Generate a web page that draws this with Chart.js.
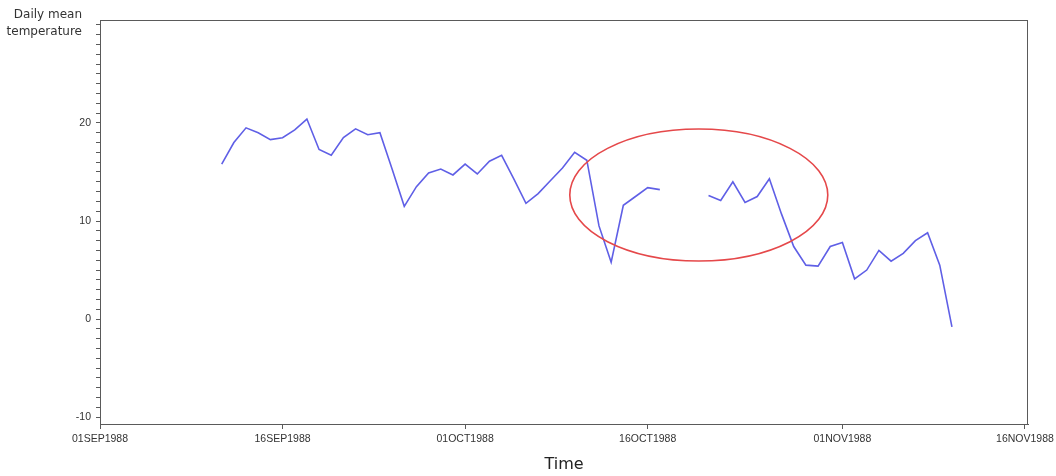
<!DOCTYPE html>
<html>
<head>
<meta charset="utf-8">
<script src="https://cdn.jsdelivr.net/npm/chart.js@4"></script>
<style>
  html, body { margin: 0; padding: 0; background: #fff; }
  #wrap { width: 1056px; height: 476px; }
</style>
</head>
<body>
<div id="wrap"><canvas id="tc" width="1056" height="476"></canvas></div>
<script>
/* ── Data ─────────────────────────────────────────────────────────── */
const DATES = [
    '1988-09-11', '1988-09-12', '1988-09-13', '1988-09-14', '1988-09-15', '1988-09-16',
    '1988-09-17', '1988-09-18', '1988-09-19', '1988-09-20', '1988-09-21', '1988-09-22',
    '1988-09-23', '1988-09-24', '1988-09-25', '1988-09-26', '1988-09-27', '1988-09-28',
    '1988-09-29', '1988-09-30', '1988-10-01', '1988-10-02', '1988-10-03', '1988-10-04',
    '1988-10-05', '1988-10-06', '1988-10-07', '1988-10-08', '1988-10-09', '1988-10-10',
    '1988-10-11', '1988-10-12', '1988-10-13', '1988-10-14', '1988-10-15', '1988-10-16',
    '1988-10-17', '1988-10-18', '1988-10-19', '1988-10-20', '1988-10-21', '1988-10-22',
    '1988-10-23', '1988-10-24', '1988-10-25', '1988-10-26', '1988-10-27', '1988-10-28',
    '1988-10-29', '1988-10-30', '1988-10-31', '1988-11-01', '1988-11-02', '1988-11-03',
    '1988-11-04', '1988-11-05', '1988-11-06', '1988-11-07', '1988-11-08', '1988-11-09',
    '1988-11-10',
];
// null = missing day (gap in the line)
const TEMPS = [
    15.8, 18.0, 19.5, 19.0, 18.3, 18.5,
    19.3, 20.4, 17.3, 16.7, 18.5, 19.4,
    18.8, 19.0, 15.3, 11.5, 13.5, 14.9,
    15.3, 14.7, 15.8, 14.8, 16.1, 16.7,
    14.3, 11.8, 12.8, 14.1, 15.4, 17.0,
    16.2,  9.5,  5.8, 11.6, 12.5, 13.4,
    13.2, null, null, null, 12.6, 12.1,
    14.0, 11.9, 12.5, 14.3, 10.7,  7.4,
     5.5,  5.4,  7.4,  7.8,  4.1,  5.0,
     7.0,  5.9,  6.7,  8.0,  8.8,  5.5,
    -0.8,
];
const TICK_DATES  = ['1988-09-01', '1988-09-16', '1988-10-01', '1988-10-16', '1988-11-01', '1988-11-16'];
const TICK_LABELS = ['01SEP1988', '16SEP1988', '01OCT1988', '16OCT1988', '01NOV1988', '16NOV1988'];
const Y_LABELS = [-10, 0, 10, 20];
const Y_TITLE = ['Daily mean', 'temperature'];
const X_TITLE = 'Time';

/* ── Helpers ──────────────────────────────────────────────────────── */
const ORIGIN = Date.parse('1988-09-01');
const dayNo  = s => (Date.parse(s) - ORIGIN) / 86400000;

const AXIS = '#5a5a5a';
const TXT  = '#333';

// highlight ellipse, in data units (days since 01SEP1988, degrees)
const RING = { cx: 49.2, cy: 12.65, rx: 10.6, ry: 6.73 };

/* ── Plugin: frame, ellipse, y title ─────────────────────────────── */
const extras = {
    id: 'extras',
    afterDatasetsDraw(chart) {
        const { ctx, chartArea: a, scales: { x, y } } = chart;
        ctx.save();
        // full box round the plot
        ctx.strokeStyle = AXIS;
        ctx.lineWidth = 1;
        ctx.strokeRect(Math.round(a.left) + 0.5, Math.round(a.top) + 0.5,
                       Math.round(a.right - a.left) - 1, Math.round(a.bottom - a.top));
        // red ring
        const cx = x.getPixelForValue(RING.cx);
        const cy = y.getPixelForValue(RING.cy);
        const rx = Math.abs(x.getPixelForValue(RING.cx + RING.rx) - cx);
        const ry = Math.abs(y.getPixelForValue(RING.cy + RING.ry) - cy);
        ctx.beginPath();
        ctx.ellipse(cx, cy, rx, ry, 0, 0, Math.PI * 2);
        ctx.strokeStyle = '#e5484a';
        ctx.lineWidth = 1.6;
        ctx.stroke();
        // horizontal y title, top-left
        ctx.fillStyle = TXT;
        ctx.font = "12px 'DejaVu Sans', sans-serif";
        ctx.textAlign = 'right';
        ctx.textBaseline = 'middle';
        ctx.fillText(Y_TITLE[0], 82, 15);
        ctx.fillText(Y_TITLE[1], 82, 32);
        ctx.restore();
    },
};

/* ── Chart ────────────────────────────────────────────────────────── */
const points = DATES.map((d, i) => ({ x: dayNo(d), y: TEMPS[i] }));
const tickVals = TICK_DATES.map(dayNo);

new Chart(document.getElementById('tc'), {
    type: 'line',
    data: {
        datasets: [{
            data: points,
            borderColor: '#5f5fe6',
            borderWidth: 1.6,
            pointRadius: 0,
            tension: 0,
            spanGaps: false,
        }],
    },
    options: {
        responsive: false,
        animation: false,
        layout: { padding: { top: 20, right: 28, bottom: 0, left: 0 } },
        plugins: {
            legend: { display: false },
            tooltip: { enabled: false },
        },
        scales: {
            x: {
                type: 'linear',
                min: 0,
                max: 76.25,
                afterBuildTicks: s => { s.ticks = tickVals.map(v => ({ value: v })); },
                afterFit: s => { s.height = 52; s.paddingRight = 28; },
                grid: { drawOnChartArea: false, tickLength: 5, color: AXIS },
                border: { color: AXIS, width: 1 },
                ticks: {
                    autoSkip: false,
                    maxRotation: 0,
                    padding: 4,
                    color: TXT,
                    font: { family: "'Liberation Sans', Arial, sans-serif", size: 10.5 },
                    callback: (v, i) => TICK_LABELS[i],
                },
                title: {
                    display: true,
                    text: X_TITLE,
                    color: '#222',
                    font: { family: "'DejaVu Sans', sans-serif", size: 16, lineHeight: 1.2 },
                    padding: { top: 0, bottom: 2 },
                },
            },
            y: {
                min: -10.7,
                max: 30.5,
                afterFit: s => { s.width = 100; },
                grid: { drawOnChartArea: false, tickLength: 4, color: AXIS },
                border: { color: AXIS, width: 1 },
                ticks: {
                    stepSize: 1,
                    includeBounds: false,
                    maxTicksLimit: 100,
                    autoSkip: false,
                    padding: 5,
                    color: TXT,
                    font: { family: "'Liberation Sans', Arial, sans-serif", size: 10.5 },
                    callback: v => (Y_LABELS.includes(v) ? String(v) : ''),
                },
            },
        },
    },
    plugins: [extras],
});
</script>
</body>
</html>
